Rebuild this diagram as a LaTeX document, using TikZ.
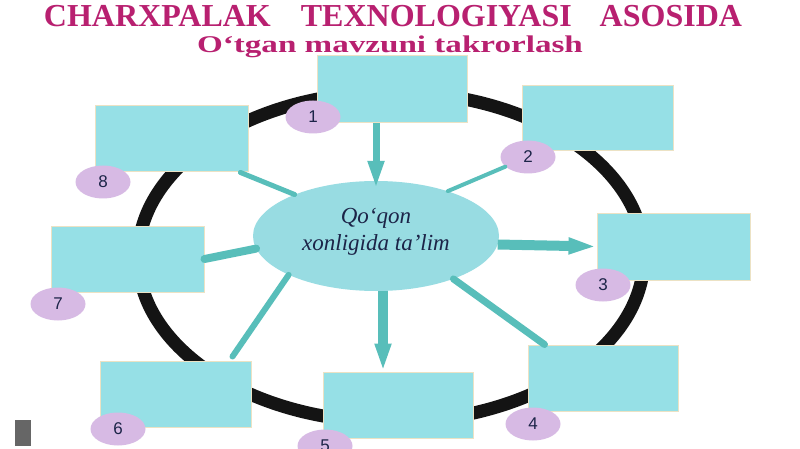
\documentclass[tikz,border=0pt]{standalone}
\usepackage{fontspec}
\setmainfont{Liberation Serif}
\newfontfamily\numfont{Liberation Sans}
\usetikzlibrary{shapes.geometric,arrows.meta}
\definecolor{boxcyan}{RGB}{150,224,230}
\definecolor{hubcyan}{RGB}{152,220,226}
\definecolor{spoke}{RGB}{88,190,186}
\definecolor{lilac}{RGB}{215,186,228}
\definecolor{titlered}{RGB}{184,32,112}
\definecolor{inkblue}{RGB}{28,36,72}
\definecolor{glow}{RGB}{236,226,196}

\begin{document}
\begin{tikzpicture}[x=1pt,y=-1pt,
    cell/.style={rectangle,fill=boxcyan,draw=glow,line width=1pt,minimum width=151pt,minimum height=66pt,inner sep=0pt},
    num/.style={ellipse,fill=lilac,minimum width=55pt,minimum height=33pt,inner sep=0pt,text=inkblue,font=\numfont\fontsize{17}{17}\selectfont},
    heading/.style={text=titlered,inner sep=0pt},
    spokeline/.style={draw=spoke,line cap=round},
    spokearrow/.style={draw=spoke,-{Triangle[length=28pt,width=15pt]}}]
  \useasboundingbox (0,0) rectangle (800,449);
  \fill[white] (0,0) rectangle (800,449);
  % heading
  \node[heading,font=\bfseries\fontsize{32}{32}\selectfont] (title) at (393,16.5)
    {CHARXPALAK\hspace{30pt}TEXNOLOGIYASI\hspace{28pt}ASOSIDA};
  \node[heading,font=\bfseries\fontsize{24}{24}\selectfont] (subtitle) at (390,47)
    {\scalebox{1.38}[1]{O‘tgan mavzuni takrorlash}};
  % wheel
  \draw[line width=13pt,black!92] (391,257) ellipse [x radius=253, y radius=165];
  \node[ellipse,fill=hubcyan,minimum width=246pt,minimum height=110pt,inner sep=0pt] (hub) at (376,236) {};
  \node[text=inkblue,align=center,font=\itshape\fontsize{23}{27}\selectfont] (hubtext) at ([yshift=4pt]hub.center)
    {Qo‘qon\\xonligida ta’lim};
  % boxes
  \node[cell,minimum width=150pt,minimum height=67pt] (b1) at (392,89.5) {};
  \node[cell,minimum height=65pt] (b2) at (597.5,118.5) {};
  \node[cell,minimum width=153pt,minimum height=67pt] (b3) at (673.5,246.5) {};
  \node[cell,minimum width=150pt] (b4) at (603,378) {};
  \node[cell,minimum width=150pt] (b5) at (398,405) {};
  \node[cell] (b6) at (175.5,394) {};
  \node[cell,minimum width=153pt] (b7) at (127.5,259) {};
  \node[cell,minimum width=153pt] (b8) at (171.5,139) {};
  % numbers
  \node[num] (n1) at (313,117) {1};
  \node[num] (n2) at (528,157) {2};
  \node[num] (n3) at (603,285) {3};
  \node[num] (n4) at (533,424) {4};
  \node[num] (n5) at (325,446) {5};
  \node[num] (n6) at (118,429) {6};
  \node[num] (n7) at (58,304) {7};
  \node[num] (n8) at (103,182) {8};
  % spokes
  \draw[spokearrow,line width=7pt] (hub.north |- b1.south) -- ([yshift=-8pt]hub.north);
  \draw[spokeline,line width=4pt] (hub.32) -- (n2);
  \draw[spokearrow,line width=10pt] (hub.-4) -- (b3.west);
  \draw[spokeline,line width=7pt] (hub.-29) -- ([xshift=17pt]b4.north west);
  \draw[spokearrow,line width=10pt] ([xshift=7pt]hub.south) -- ([xshift=-15pt]b5.north);
  \draw[spokeline,line width=6pt] (hub.204) -- ([xshift=-19pt,yshift=4pt]b6.north east);
  \draw[spokeline,line width=8pt] (hub.186) -- (b7.east);
  \draw[spokeline,line width=5pt] (hub.153) -- ([xshift=-8pt]b8.south east);
  % corner mark
  \fill[black!60] (15,420) rectangle (31,446);
\end{tikzpicture}
\end{document}
